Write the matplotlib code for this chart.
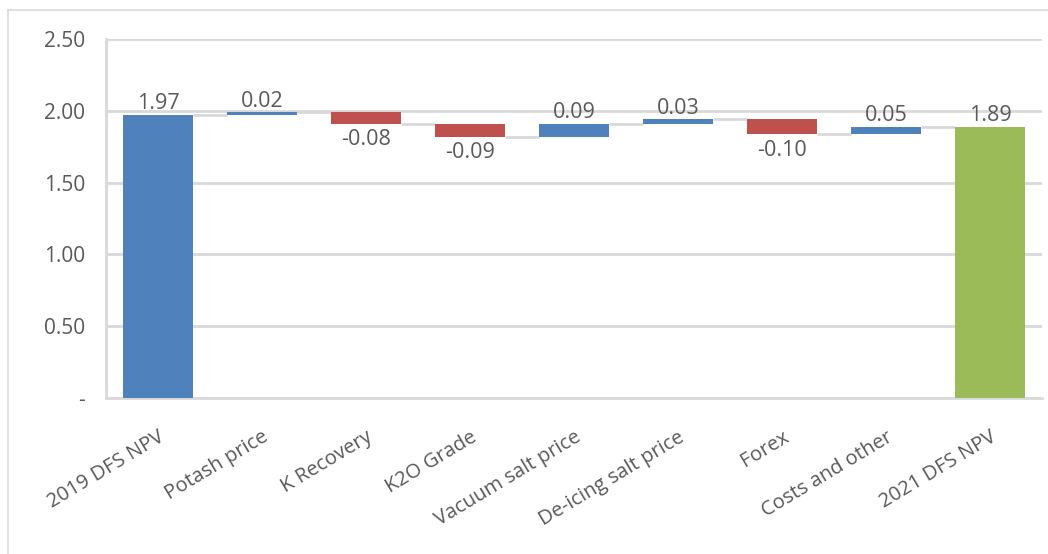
import matplotlib
matplotlib.use("Agg")
import matplotlib.pyplot as plt
from matplotlib.lines import Line2D

# Waterfall data (DFS NPV bridge)
categories = ["2019 DFS NPV", "Potash price", "K Recovery", "K2O Grade",
              "Vacuum salt price", "De-icing salt price", "Forex",
              "Costs and other", "2021 DFS NPV"]
start_value = 1.97
changes = [0.02, -0.08, -0.09, 0.09, 0.03, -0.10, 0.05]
end_value = 1.89
y_ticks = [0.0, 0.5, 1.0, 1.5, 2.0, 2.5]
y_tick_labels = ["-", "0.50", "1.00", "1.50", "2.00", "2.50"]

BLUE = "#4F81BD"
RED = "#C0504D"
GREEN = "#9BBB59"
GRID = "#D9D9D9"
TEXT = "#595959"

plt.rcParams["font.family"] = ["Open Sans", "DejaVu Sans"]

fig = plt.figure(figsize=(10.48, 5.54), dpi=100)
ax = fig.add_axes([0.1011, 0.2816, 0.8932, 0.648])

width = 0.67

# bottoms / heights
bottoms, heights, colors = [0.0], [start_value], [BLUE]
running = [start_value]
level = start_value
for c in changes:
    new = level + c
    bottoms.append(min(level, new))
    heights.append(abs(c))
    colors.append(BLUE if c >= 0 else RED)
    level = new
    running.append(level)
bottoms.append(0.0)
heights.append(end_value)
colors.append(GREEN)

x = list(range(len(categories)))
ax.bar(x, heights, bottom=bottoms, width=width, color=colors, zorder=3)

# connectors
for i, lvl in enumerate(running):
    ax.plot([i + width / 2, i + 1 - width / 2], [lvl, lvl],
            color=GRID, linewidth=2, zorder=2, solid_capstyle="butt")

# value labels
labels = [start_value] + changes + [end_value]
for i, v in enumerate(labels):
    top = bottoms[i] + heights[i]
    if v >= 0:
        ax.text(i, top + 0.005, f"{v:.2f}", ha="center", va="bottom",
                fontsize=15.5, color=TEXT, zorder=4)
    else:
        ax.text(i, bottoms[i] - 0.04, f"{v:.2f}", ha="center", va="top",
                fontsize=15.5, color=TEXT, zorder=4)

ax.set_xlim(-0.5, len(categories) - 0.5)
ax.set_ylim(0, 2.5)
ax.set_yticks(y_ticks)
ax.set_yticklabels(y_tick_labels)
ax.set_xticks(x)
ax.set_xticklabels(categories, rotation=31, ha="right", rotation_mode="anchor")
ax.tick_params(axis="both", length=0, colors=TEXT)
ax.tick_params(axis="y", pad=15, labelsize=15)
ax.tick_params(axis="x", pad=21, labelsize=14.5)
ax.yaxis.grid(True, color=GRID, linewidth=2, zorder=0)
ax.set_axisbelow(True)
for side in ["top", "right"]:
    ax.spines[side].set_visible(False)
ax.spines["left"].set_color(GRID)
ax.spines["left"].set_linewidth(2)
ax.spines["bottom"].set_color(GRID)
ax.spines["bottom"].set_linewidth(2)

# outer chart frame (cropped on right / bottom)
fx0 = 8 / 1048
fy_top = 1 - 10 / 554
fig.add_artist(Line2D([fx0, fx0], [0, fy_top], color=GRID, linewidth=1.2,
                      transform=fig.transFigure))
fig.add_artist(Line2D([fx0, 1], [fy_top, fy_top], color=GRID, linewidth=1.2,
                      transform=fig.transFigure))

fig.savefig("out.png", dpi=100, facecolor="white")
